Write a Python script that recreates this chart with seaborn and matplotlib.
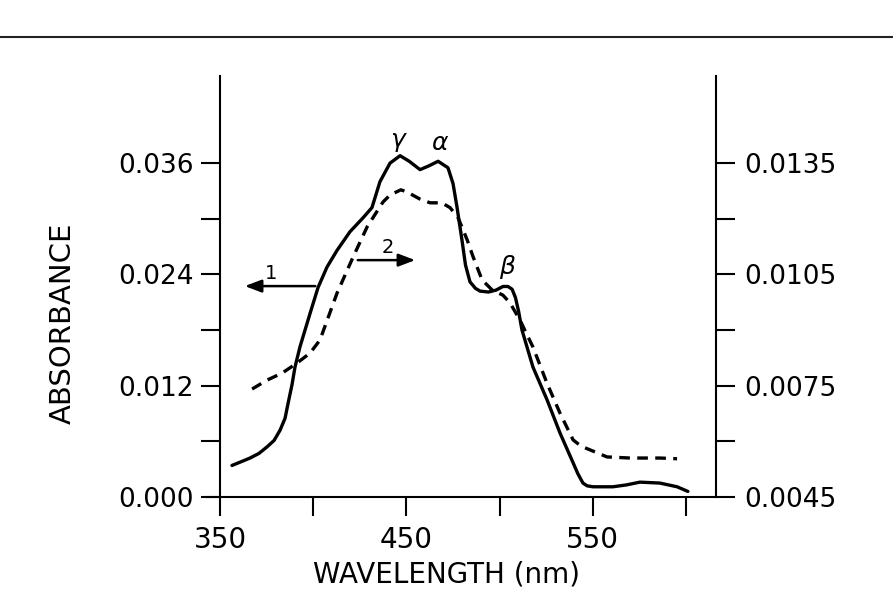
import numpy as np
import pandas as pd
import matplotlib
matplotlib.use("Agg")
import matplotlib.pyplot as plt
from matplotlib.lines import Line2D
from matplotlib.ticker import FixedLocator, FormatStrFormatter
import seaborn as sns

# Curve 1 (solid, left axis)
wl_1 = [356.4, 361.3, 366.1, 370.9, 375.2, 379.0, 382.2, 384.9, 386.5, 388.6,
        390.2, 392.9, 395.6, 398.3, 402.6, 407.4, 412.8, 419.7, 426.7, 431.5,
        435.8, 441.2, 446.6, 451.5, 457.3, 462.0, 467.0, 472.3, 475.0, 477.1,
        479.8, 481.7, 484.1, 487.0, 489.5, 494.0, 498.0, 501.8, 504.5, 506.7,
        508.5, 510.2, 512.0, 517.9, 525.4, 532.4, 539.4, 542.0, 544.7, 547.0,
        550.1, 560.8, 568.0, 575.3, 586.0, 595.2, 601.0]
abs_1 = [0.0034, 0.0038, 0.0042, 0.0047, 0.0054, 0.0061, 0.0072, 0.0085, 0.0101, 0.0121,
         0.0140, 0.0162, 0.0180, 0.0198, 0.0226, 0.0248, 0.0266, 0.0286, 0.0301, 0.0312,
         0.0340, 0.0360, 0.0368, 0.0362, 0.0353, 0.0357, 0.0362, 0.0355, 0.0338, 0.0313,
         0.0277, 0.0250, 0.0232, 0.0225, 0.0222, 0.0221, 0.0223, 0.0227, 0.0227, 0.0224,
         0.0215, 0.0200, 0.0180, 0.0140, 0.0105, 0.0069, 0.0037, 0.0025, 0.0015, 0.0012,
         0.0011, 0.0011, 0.0013, 0.0016, 0.0015, 0.0011, 0.0006]

# Curve 2 (dashed, right axis)
wl_2 = [367.2, 375.2, 383.3, 391.3, 398.3, 403.6, 412.8, 421.4, 428.9, 437.4,
        441.2, 447.0, 450.0, 457.3, 462.7, 469.0, 473.4, 477.7, 482.6, 485.8,
        490.6, 496.0, 501.8, 505.6, 510.9, 517.9, 525.4, 532.4, 539.4, 543.7,
        548.5, 557.6, 570.0, 586.0, 595.2]
abs_2 = [0.00741, 0.00765, 0.00784, 0.00811, 0.00838, 0.00873, 0.01000, 0.01097, 0.01178, 0.01245,
         0.01264, 0.01278, 0.01273, 0.01253, 0.01243, 0.01243, 0.01230, 0.01203, 0.01143, 0.01097,
         0.01035, 0.01008, 0.00994, 0.00973, 0.00927, 0.00854, 0.00757, 0.00676, 0.00604, 0.00587,
         0.00577, 0.00558, 0.00555, 0.00555, 0.00553]

left_ticks = [0.000, 0.012, 0.024, 0.036]
left_minor = [0.006, 0.018, 0.030]
right_ticks = [0.0045, 0.0075, 0.0105, 0.0135]
right_minor = [0.0060, 0.0090, 0.0120]
x_ticks = [350, 450, 550]
x_minor = [400, 500, 600]

df1 = pd.DataFrame({"wavelength": wl_1, "absorbance": abs_1})
df2 = pd.DataFrame({"wavelength": wl_2, "absorbance": abs_2})

sns.set_style("ticks")
plt.rcParams['font.family'] = ['DejaVu Sans']
plt.rcParams.update({"text.color": "black", "axes.labelcolor": "black",
                     "xtick.color": "black", "ytick.color": "black",
                     "axes.edgecolor": "black"})

fig = plt.figure(figsize=(8.93, 6.15), dpi=100)
ax = fig.add_axes([0.2318, 0.1919, 0.570, 0.6846])
ax2 = ax.twinx()

sns.lineplot(data=df1, x="wavelength", y="absorbance", ax=ax, color="black",
             linewidth=2.4, estimator=None)
sns.lineplot(data=df2, x="wavelength", y="absorbance", ax=ax2, color="black",
             linewidth=2.4, estimator=None, linestyle=(0, (3.2, 2.2)))

ax.set_xlim(343.0, 616.1)
ax.set_ylim(0, 0.0454)
ax2.set_ylim(0.0045, 0.0045 + 0.0454 / 4)

# spines
for s in ["top", "right"]:
    ax.spines[s].set_visible(False)
for s in ["top", "left", "bottom"]:
    ax2.spines[s].set_visible(False)
ax.spines["left"].set_position(("data", 350))
for sp in [ax.spines["left"], ax.spines["bottom"], ax2.spines["right"]]:
    sp.set_linewidth(1.5)
    sp.set_color("black")

# ticks
ax.yaxis.set_major_locator(FixedLocator(left_ticks))
ax.yaxis.set_minor_locator(FixedLocator(left_minor))
ax.yaxis.set_major_formatter(FormatStrFormatter("%.3f"))
ax2.yaxis.set_major_locator(FixedLocator(right_ticks))
ax2.yaxis.set_minor_locator(FixedLocator(right_minor))
ax2.yaxis.set_major_formatter(FormatStrFormatter("%.4f"))
ax.xaxis.set_major_locator(FixedLocator(x_ticks))
ax.xaxis.set_minor_locator(FixedLocator(x_minor))

ax.tick_params(axis="y", which="both", direction="out", length=14, width=1.5,
               labelsize=19, pad=5, color="black", labelcolor="black")
ax.tick_params(axis="x", which="both", direction="out", length=14, width=1.5,
               labelsize=20, pad=7, color="black", labelcolor="black")
ax2.tick_params(axis="y", which="both", direction="out", length=14, width=1.5,
                labelsize=19, pad=6, color="black", labelcolor="black")

ax.set_xlabel("WAVELENGTH (nm)", fontsize=20, color="black")
ax.xaxis.set_label_coords(0.4715, -0.150)
ax.set_ylabel("ABSORBANCE", fontsize=21, color="black")
ax.yaxis.set_label_coords(-0.255, 0.413)
ax2.set_ylabel("")

# peak labels
ax.text(445, 0.0385, "γ", fontsize=18, style="italic", ha="center", va="center")
ax.text(468, 0.0382, "α", fontsize=18, style="italic", ha="center", va="center")
ax.text(504, 0.0248, "β", fontsize=18, style="italic", ha="center", va="center")

# axis indicator arrows
arrow_kw = dict(arrowstyle="-|>,head_length=1.0,head_width=0.38", color="black", lw=1.8)
ax.annotate("", xy=(361.8, 0.02274), xytext=(402.6, 0.02274), arrowprops=arrow_kw)
ax.text(377.4, 0.0241, "1", fontsize=14, ha="center", va="center")
ax.annotate("", xy=(456.2, 0.02554), xytext=(422.4, 0.02554), arrowprops=arrow_kw)
ax.text(440.1, 0.0269, "2", fontsize=14, ha="center", va="center")

# rule across the top of the page
fig.add_artist(Line2D([0, 1], [0.940, 0.940], transform=fig.transFigure,
                      color="#222222", linewidth=1.5))

fig.savefig("out.png", dpi=100)
